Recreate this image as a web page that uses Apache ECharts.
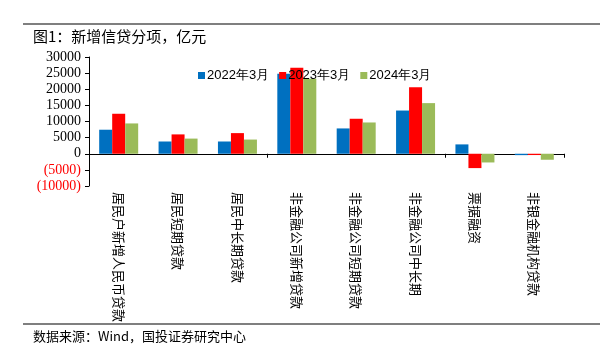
<!DOCTYPE html>
<html lang="zh">
<head>
<meta charset="UTF-8">
<title>新增信贷分项</title>
<script src="https://cdn.jsdelivr.net/npm/echarts@6/dist/echarts.min.js"></script>
<style>
  html, body { margin: 0; padding: 0; background: #fff; }
  #container { width: 604px; height: 354px; }
</style>
</head>
<body>
<div id="container"></div>
<script type="text/javascript">
// 数据
var categories = ['居民户新增人民币贷款', '居民短期贷款', '居民中长期贷款', '非金融公司新增贷款',
                  '非金融公司短期贷款', '非金融公司中长期', '票据融资', '非银金融机构贷款'];
var seriesNames = ['2022年3月', '2023年3月', '2024年3月'];
var data2022 = [7450, 3800, 3800, 24800, 7850, 13400, 2900, -430];
var data2023 = [12400, 6000, 6400, 26700, 10850, 20650, -4450, -400];
var data2024 = [9400, 4700, 4400, 23250, 9700, 15700, -2700, -1860];
var colors = ['#0070C0', '#FF0000', '#9BBB59'];

var myChart = echarts.init(document.getElementById('container'));

var serif = '"Liberation Serif", "Times New Roman", serif';
var cjk = '"Noto Sans CJK SC", sans-serif';

var allData = [data2022, data2023, data2024];
var series = [];
for (var i = 0; i < 3; i++) {
    series.push({
        name: seriesNames[i],
        type: 'bar',
        xAxisIndex: 0,
        data: allData[i],
        barWidth: 13,
        barGap: '0%',
        itemStyle: { color: colors[i] },
        animation: false
    });
}

var option = {
    animation: false,
    grid: { left: 89, right: 40, top: 57, bottom: 168 },
    legend: {
        data: seriesNames,
        left: 193,
        top: 64,
        icon: 'rect',
        itemWidth: 7,
        itemHeight: 7,
        itemGap: 10,
        textStyle: { color: '#000', fontSize: 13, fontFamily: '"Liberation Sans", Arial, sans-serif', padding: [0, 0, 0, -3] }
    },
    graphic: [
        { type: 'line', shape: { x1: 23, y1: 24, x2: 600, y2: 24 }, style: { stroke: '#000', lineWidth: 1.2 } },
        { type: 'text', left: 33, top: 29, style: { text: '图1：新增信贷分项，亿元', font: '15px ' + cjk, fill: '#000' } },
        { type: 'line', shape: { x1: 23, y1: 324, x2: 600, y2: 324 }, style: { stroke: '#000', lineWidth: 1.2 } },
        { type: 'text', left: 33, top: 330, style: { text: '数据来源：Wind，国投证券研究中心', font: '13px ' + cjk, fill: '#000' } }
    ],
    xAxis: [
        {
            type: 'category',
            data: categories,
            axisLine: { onZero: true, lineStyle: { color: '#000', width: 1 } },
            axisTick: { show: true, inside: false, length: 4, lineStyle: { color: '#000' } },
            axisLabel: { show: false },
            splitLine: { show: false }
        },
        {
            type: 'category',
            data: categories,
            position: 'bottom',
            axisLine: { show: false },
            axisTick: { show: false },
            axisLabel: {
                rotate: -90,
                margin: 6,
                interval: 0,
                color: '#000',
                fontSize: 13,
                fontFamily: cjk
            }
        }
    ],
    yAxis: {
        type: 'value',
        min: -10000,
        max: 30000,
        interval: 5000,
        axisLine: { show: true, lineStyle: { color: '#000', width: 1 } },
        axisTick: { show: true, length: 4, lineStyle: { color: '#000' } },
        splitLine: { show: false },
        axisLabel: {
            margin: 8,
            fontSize: 14,
            fontFamily: serif,
            color: function (v) { return v < 0 ? '#FF0000' : '#000'; },
            formatter: function (v) { return v < 0 ? '(' + (-v) + ')' : '' + v; }
        }
    },
    series: series
};

myChart.setOption(option);
</script>
</body>
</html>
